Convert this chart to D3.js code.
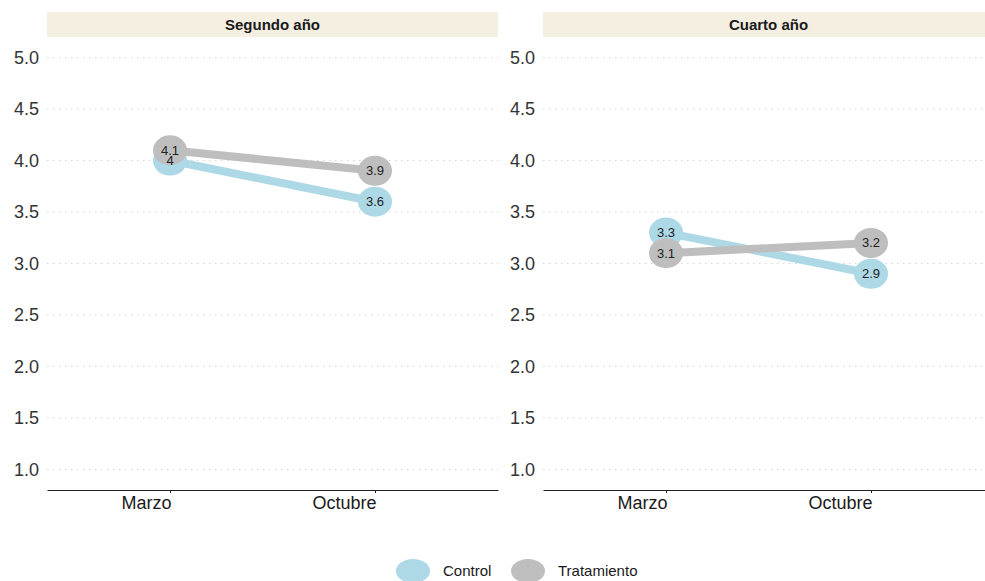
<!DOCTYPE html>
<html>
<head>
<meta charset="utf-8">
<script src="https://cdn.jsdelivr.net/npm/d3@7"></script>
<style>
  body { margin: 0; background: #fff; }
  text { font-family: "Liberation Sans", Arial, sans-serif; }
</style>
</head>
<body>
<svg id="chart"></svg>
<script>
// data
const panels = ["Segundo año", "Cuarto año"]
const months = ["Marzo", "Octubre"]
const groups = ["Control", "Tratamiento"]
const controlValues = [[4.0, 3.6], [3.3, 2.9]]
const tratamientoValues = [[4.1, 3.9], [3.1, 3.2]]
const yTicks = [1.0, 1.5, 2.0, 2.5, 3.0, 3.5, 4.0, 4.5, 5.0]

const colors = { "Control": "#add8e6", "Tratamiento": "#bebebe" }

const W = 985, H = 581
const panelLeft = [47, 543]
const panelW = 451
const plotTop = 37, plotBottom = 490

const svg = d3.select('#chart')
    .attr("width", W)
    .attr("height", H)

const y = d3.scaleLinear()
    .domain([0.8, 5.2])
    .range([plotBottom, plotTop])

panels.forEach(function(name, p) {
    const x0 = panelLeft[p]

    // discrete x scale with ggplot-like 0.6 expansion
    const xPos = d3.scaleLinear()
        .domain([0.4, 2.6])
        .range([x0, x0 + panelW])
    const x = function(m) { return xPos(months.indexOf(m) + 1) }

    const g = svg.append('g')

    // strip
    g.append('rect')
        .attr('x', x0)
        .attr('y', 12)
        .attr('width', panelW)
        .attr('height', 25)
        .attr('fill', '#f5efe1')
    g.append('text')
        .attr('x', x0 + panelW / 2)
        .attr('y', 30)
        .attr('text-anchor', 'middle')
        .attr('font-weight', 'bold')
        .attr('font-size', 15)
        .attr('fill', '#1a1a1a')
        .text(name)

    // horizontal dotted grid
    g.append('g')
        .selectAll('line')
        .data(yTicks)
        .enter()
        .append('line')
        .attr('x1', x0)
        .attr('x2', x0 + panelW)
        .attr('y1', d => y(d))
        .attr('y2', d => y(d))
        .attr('stroke', '#d4d4d4')
        .attr('stroke-width', 1)
        .attr('stroke-dasharray', '1.5,4.5')

    // y labels
    const yAxis = g.append('g')
        .attr('transform', `translate(${x0}, 0)`)
        .call(d3.axisLeft(y).tickValues(yTicks).tickFormat(d3.format('.1f')).tickSize(0).tickPadding(8))
    yAxis.select('.domain').remove()
    yAxis.selectAll('text')
        .attr('font-size', 18)
        .attr('fill', '#333')
        .style('font-family', '"Liberation Sans", Arial, sans-serif')

    // x axis, labels end at the tick like the original
    const xAxis = g.append('g')
        .attr('transform', `translate(0, ${plotBottom})`)
        .call(d3.axisBottom(xPos).tickValues([1, 2]).tickFormat(d => months[d - 1]).tickSize(3).tickPadding(3).tickSizeOuter(0))
    xAxis.select('.domain').attr('stroke', '#222').attr('stroke-width', 1.2)
    xAxis.selectAll('.tick line').attr('stroke', '#222')
    xAxis.selectAll('text')
        .attr('text-anchor', 'end')
        .attr('x', 1)
        .attr('font-size', 18)
        .attr('fill', '#1a1a1a')
        .style('font-family', '"Liberation Sans", Arial, sans-serif')

    const series = [
        { key: "Control", vals: controlValues[p] },
        { key: "Tratamiento", vals: tratamientoValues[p] }
    ]

    const line = d3.line()
        .x(d => x(d.month))
        .y(d => y(d.value))

    const pts = []
    series.forEach(function(s) {
        const data = months.map((m, i) => ({ month: m, value: s.vals[i], key: s.key }))
        g.append('path')
            .datum(data)
            .attr('d', line)
            .attr('fill', 'none')
            .attr('stroke', colors[s.key])
            .attr('stroke-width', 8)
        g.selectAll(null)
            .data(data)
            .enter()
            .append('ellipse')
            .attr('cx', d => x(d.month))
            .attr('cy', d => y(d.value))
            .attr('rx', 17)
            .attr('ry', 15)
            .attr('fill', colors[s.key])
        data.forEach(d => pts.push(d))
    })

    // value labels on top of everything
    g.selectAll('.lbl')
        .data(pts)
        .enter()
        .append('text')
        .attr('class', 'lbl')
        .attr('x', d => x(d.month))
        .attr('y', d => y(d.value))
        .attr('dy', '0.35em')
        .attr('text-anchor', 'middle')
        .attr('font-size', 13)
        .attr('fill', '#222')
        .text(d => d3.format('~g')(d.value))
})

// legend
const legend = svg.append('g')
const legendX = [413, 528]
groups.forEach(function(k, i) {
    legend.append('ellipse')
        .attr('cx', legendX[i])
        .attr('cy', 571)
        .attr('rx', 17)
        .attr('ry', 12)
        .attr('fill', colors[k])
    legend.append('text')
        .attr('x', legendX[i] + 30)
        .attr('y', 571)
        .attr('dy', '0.35em')
        .attr('font-size', 15)
        .attr('fill', '#1a1a1a')
        .text(k)
})
</script>
</body>
</html>
